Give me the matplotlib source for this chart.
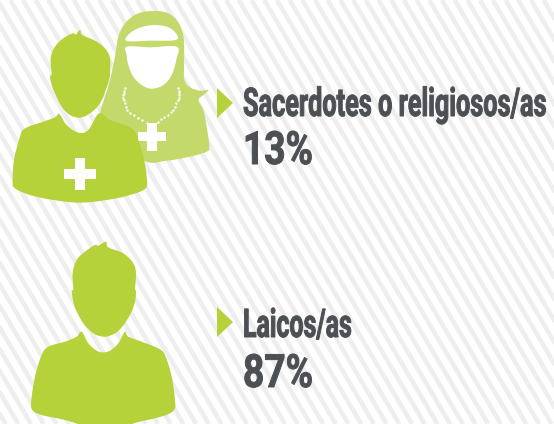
import numpy as np
import matplotlib
matplotlib.use("Agg")
import matplotlib.pyplot as plt
from matplotlib.patches import Polygon
from matplotlib.patheffects import AbstractPathEffect
from matplotlib.transforms import Affine2D

categories = ["Sacerdotes o religiosos/as", "Laicos/as"]
percent_values = [13, 87]
GREEN = "#b5d23a"; LIGHT = "#c3d96b"; INK = "#4c4f54"; STRIPE = "#eeeeee"

fig = plt.figure(figsize=(5.54, 4.24), dpi=100)
ax = fig.add_axes([0, 0, 1, 1])
ax.set_xlim(0, 554); ax.set_ylim(424, 0); ax.axis("off")

class Squeeze(AbstractPathEffect):
    """Narrow and embolden a text about an anchor (condensed face look-alike)."""
    def __init__(self, sx, x0, stroke):
        super().__init__()
        self.sx, self.x0, self.stroke = sx, x0, stroke
    def draw_path(self, renderer, gc, tpath, affine, rgbFace=None):
        a = affine + Affine2D().translate(-self.x0, 0).scale(self.sx, 1).translate(self.x0, 0)
        g = renderer.new_gc()
        g.copy_properties(gc)
        g.set_linewidth(self.stroke)
        g.set_foreground(rgbFace)
        renderer.draw_path(g, tpath, a, rgbFace)
        g.restore()

period, slope = 12.7, 1.7
for x0 in np.arange(-320, 560, period):
    ax.plot([x0, x0 + 424 / slope], [0, 424], color=STRIPE, lw=3.3, solid_capstyle="butt", zorder=0)

def smooth(pts, n=8):
    p = np.array(pts, float) / 3
    m = len(p); out = []
    for i in range(m):
        a, b, c, d = p[(i-1) % m], p[i], p[(i+1) % m], p[(i+2) % m]
        for t in np.linspace(0, 1, n, endpoint=False):
            out.append(0.5*((2*b)+(-a+c)*t+(2*a-5*b+4*c-d)*t*t+(-a+3*b-3*c+d)*t**3))
    return np.array(out)

def blob(pts, color, z, dy=0):
    s = smooth(pts); s[:, 1] += dy
    ax.add_patch(Polygon(s, closed=True, fc=color, ec="none", zorder=z))

def cross(cx, cy, hw, hh, vw, vh, z):
    for w, h in ((hw, hh), (vw, vh)):
        ax.add_patch(plt.Rectangle(((cx-w)/3, (cy-h)/3), 2*w/3, 2*h/3, fc="white", ec="none", zorder=z))

# nun
blob([(455,33),(500,38),(530,60),(547,95),(552,130),(552,200),(553,240),(570,262),(600,272),(625,270),(610,285),(595,300),(610,330),(620,380),(628,440),(620,455),(570,470),(500,482),(430,482),(300,400),(300,340),(315,290),(330,240),(345,170),(355,110),(375,70),(410,42)], LIGHT, 2)
blob([(378,122),(400,92),(450,76),(500,80),(528,100),(527,120),(450,122)], "white", 3)
blob([(380,140),(450,142),(530,140),(530,175),(515,225),(490,255),(455,266),(425,255),(400,230),(385,195),(380,165)], "white", 3)
cross(456, 410, 42, 14, 15, 42, 3)
for pts in ([(375,265),(368,295),(385,335),(440,368)], [(535,265),(538,295),(515,335),(475,365)]):
    p = np.array(pts) / 3
    t = np.linspace(0, 1, 40)
    xs = np.interp(t, np.linspace(0, 1, 4), p[:, 0]); ys = np.interp(t, np.linspace(0, 1, 4), p[:, 1])
    ax.scatter(xs[::3], ys[::3], s=3, color="white", lw=0, zorder=3)

# priest
blob([(218,100),(228,103),(240,90),(247,105),(285,122),(315,145),(330,175),(330,222),(327,240),(318,268),(300,310),(270,340),(240,353),(210,345),(185,320),(165,280),(155,255),(150,228),(155,222),(152,175),(165,140),(190,115)], GREEN, 4)
blob([(178,342),(200,375),(235,398),(265,390),(297,340),(330,360),(395,385),(415,420),(432,480),(440,530),(437,565),(390,585),(320,600),(240,608),(160,600),(90,585),(45,565),(38,545),(42,480),(60,410),(75,385),(130,365),(165,352)], GREEN, 4)
cross(240, 522, 48, 15, 16, 48, 5)

# layman
dy = 230
blob([(285,45),(295,47),(318,35),(325,52),(370,70),(400,100),(408,130),(405,178),(408,182),(405,215),(390,255),(360,298),(335,315),(310,320),(280,310),(250,280),(228,240),(220,215),(215,182),(220,178),(218,130),(230,90),(255,65)], GREEN, 4, dy)
blob([(245,305),(265,340),(290,362),(310,367),(330,362),(355,340),(375,305),(385,320),(430,337),(480,358),(497,380),(515,440),(525,510),(522,540),(490,558),(420,575),(310,600),(195,570),(125,555),(97,540),(94,510),(105,440),(125,375),(145,350),(195,335),(230,320)], GREEN, 4, dy)

# arrows and labels
tri_y = [103, 322]
label_base = [116, 337]
value_base = [164, 387]
label_width = [304, 109]
value_width = [70, 70]
font = ["Roboto", "DejaVu Sans"]
fig.canvas.draw()
rend = fig.canvas.get_renderer()

def condensed(y, s, size, width):
    right = 243 + width
    t = ax.text(right, y, s, family=font, weight="bold", fontsize=size, color=INK,
                va="baseline", ha="right", zorder=6)
    w = t.get_window_extent(rend).width
    t.set_path_effects([Squeeze(width / w, right, 0.7)])
    return t

for cat, val, ty, lb, vb, lw_, vw_ in zip(categories, percent_values, tri_y, label_base, value_base, label_width, value_width):
    ax.add_patch(Polygon([(217, ty-15), (217, ty+15), (233, ty)], closed=True, fc=GREEN, ec="none", zorder=4))
    condensed(lb, cat, 28.5, lw_)
    condensed(vb, f"{val}%", 33, vw_)

fig.savefig("out.png", dpi=100)
